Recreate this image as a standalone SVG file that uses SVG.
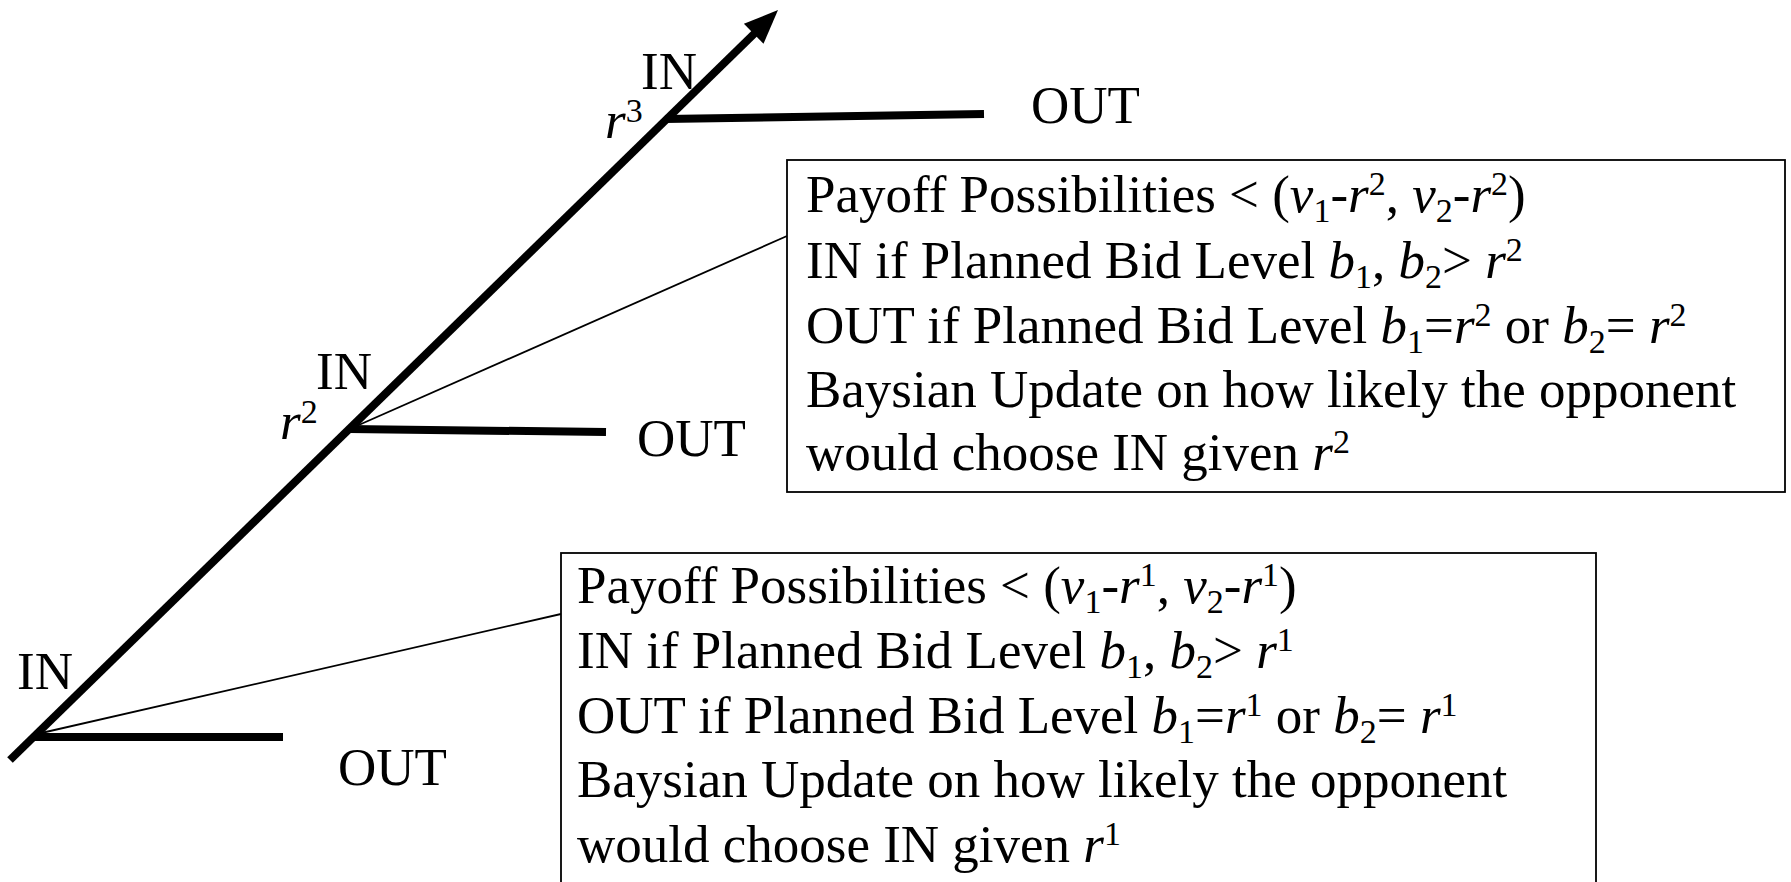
<svg xmlns="http://www.w3.org/2000/svg" width="1791" height="882" viewBox="0 0 1791 882">
<style>
.t{font-family:"Liberation Serif","Times New Roman",serif;font-size:53px;fill:#000}
.i{font-style:italic}
.s{font-size:34px}
.thick{stroke:#000;stroke-width:8;fill:none}
.thin{stroke:#000;stroke-width:1.8;fill:none}
.box{stroke:#000;stroke-width:1.8;fill:#fff}
</style>
<g id="connectors">
<line class="thick" x1="10" y1="760" x2="757" y2="31"/>
<polygon points="778,10 763.5,43.8 743.9,23.8" fill="#000"/>
<line class="thick" x1="33" y1="737" x2="283" y2="737"/>
<line class="thick" x1="349" y1="429" x2="606" y2="432"/>
<line class="thick" x1="665" y1="119" x2="984" y2="114"/>
<line class="thin" x1="352" y1="428" x2="787" y2="236"/>
<line class="thin" x1="37" y1="734" x2="561" y2="614"/>
</g>
<g id="labels">
<text class="t" x="641" y="89">IN</text>
<text class="t" x="605" y="138"><tspan class="i">r</tspan><tspan class="s" dy="-16">3</tspan></text>
<text class="t" x="1031" y="123">OUT</text>
<text class="t" x="316" y="389">IN</text>
<text class="t" x="280" y="439"><tspan class="i">r</tspan><tspan class="s" dy="-16">2</tspan></text>
<text class="t" x="637" y="456">OUT</text>
<text class="t" x="17" y="689">IN</text>
<text class="t" x="338" y="785">OUT</text>
</g>
<g id="box-r2">
<rect class="box" x="787" y="160" width="998" height="332"/>
<text class="t" x="806" y="212">Payoff Possibilities &lt; (<tspan class="i">v</tspan><tspan class="s" dy="10">1</tspan><tspan dy="-10">-</tspan><tspan class="i">r</tspan><tspan class="s" dy="-17">2</tspan><tspan dy="17">, </tspan><tspan class="i">v</tspan><tspan class="s" dy="10">2</tspan><tspan dy="-10">-</tspan><tspan class="i">r</tspan><tspan class="s" dy="-17">2</tspan><tspan dy="17">)</tspan></text>
<text class="t" x="806" y="278">IN if Planned Bid Level <tspan class="i">b</tspan><tspan class="s" dy="10">1</tspan><tspan dy="-10">, </tspan><tspan class="i">b</tspan><tspan class="s" dy="10">2</tspan><tspan dy="-10">&gt; </tspan><tspan class="i">r</tspan><tspan class="s" dy="-17">2</tspan></text>
<text class="t" x="806" y="343">OUT if Planned Bid Level <tspan class="i">b</tspan><tspan class="s" dy="10">1</tspan><tspan dy="-10">=</tspan><tspan class="i">r</tspan><tspan class="s" dy="-17">2</tspan><tspan dy="17"> or </tspan><tspan class="i">b</tspan><tspan class="s" dy="10">2</tspan><tspan dy="-10">= </tspan><tspan class="i">r</tspan><tspan class="s" dy="-17">2</tspan></text>
<text class="t" x="806" y="407">Baysian Update on how likely the opponent</text>
<text class="t" x="806" y="470">would choose IN given <tspan class="i">r</tspan><tspan class="s" dy="-17">2</tspan></text>
</g>
<g id="box-r1">
<rect class="box" x="561" y="553" width="1035" height="340"/>
<text class="t" x="577" y="603">Payoff Possibilities &lt; (<tspan class="i">v</tspan><tspan class="s" dy="10">1</tspan><tspan dy="-10">-</tspan><tspan class="i">r</tspan><tspan class="s" dy="-17">1</tspan><tspan dy="17">, </tspan><tspan class="i">v</tspan><tspan class="s" dy="10">2</tspan><tspan dy="-10">-</tspan><tspan class="i">r</tspan><tspan class="s" dy="-17">1</tspan><tspan dy="17">)</tspan></text>
<text class="t" x="577" y="668">IN if Planned Bid Level <tspan class="i">b</tspan><tspan class="s" dy="10">1</tspan><tspan dy="-10">, </tspan><tspan class="i">b</tspan><tspan class="s" dy="10">2</tspan><tspan dy="-10">&gt; </tspan><tspan class="i">r</tspan><tspan class="s" dy="-17">1</tspan></text>
<text class="t" x="577" y="733">OUT if Planned Bid Level <tspan class="i">b</tspan><tspan class="s" dy="10">1</tspan><tspan dy="-10">=</tspan><tspan class="i">r</tspan><tspan class="s" dy="-17">1</tspan><tspan dy="17"> or </tspan><tspan class="i">b</tspan><tspan class="s" dy="10">2</tspan><tspan dy="-10">= </tspan><tspan class="i">r</tspan><tspan class="s" dy="-17">1</tspan></text>
<text class="t" x="577" y="797">Baysian Update on how likely the opponent</text>
<text class="t" x="577" y="862">would choose IN given <tspan class="i">r</tspan><tspan class="s" dy="-17">1</tspan></text>
</g>
</svg>
